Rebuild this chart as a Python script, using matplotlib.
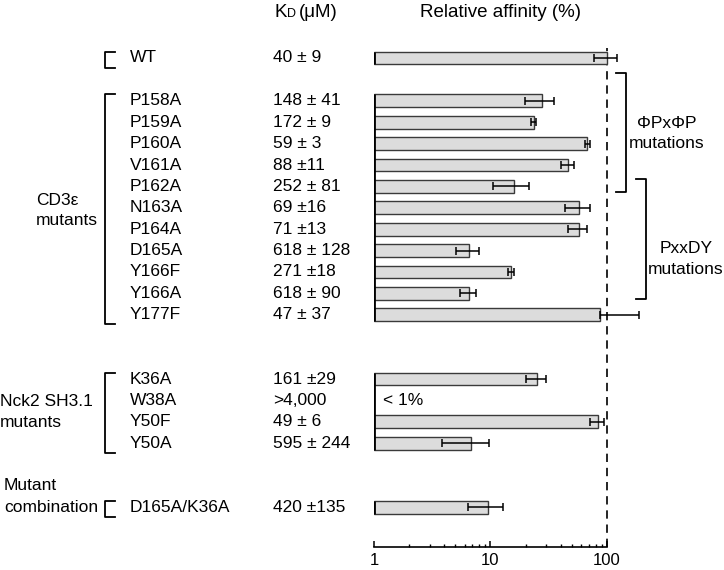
import matplotlib
matplotlib.use('Agg')
import matplotlib.pyplot as plt
import matplotlib.transforms as mtransforms
from matplotlib.ticker import FixedLocator, NullFormatter
import numpy as np

plt.rcParams['font.family'] = ['Liberation Sans', 'DejaVu Sans']

# ---- data ----
names = ['WT', 'P158A', 'P159A', 'P160A', 'V161A', 'P162A', 'N163A', 'P164A',
         'D165A', 'Y166F', 'Y166A', 'Y177F', 'K36A', 'W38A', 'Y50F', 'Y50A',
         'D165A/K36A']
rows = [0, 2, 3, 4, 5, 6, 7, 8, 9, 10, 11, 12, 15, 16, 17, 18, 21]
kd_text = ['40 ± 9', '148 ± 41', '172 ± 9', '59 ± 3', '88 ±11', '252 ± 81',
           '69 ±16', '71 ±13', '618 ± 128', '271 ±18', '618 ± 90', '47 ± 37',
           '161 ±29', '>4,000', '49 ± 6', '595 ± 244', '420 ±135']
# relative affinity (%); W38A has no bar (< 1%)
affinity = [100, 27.5, 23.5, 68, 46, 16, 58, 57, 6.5, 15, 6.5, 87,
            25, np.nan, 83, 6.8, 9.6]
err_lo = [22, 7.8, 1.1, 3, 6, 5.5, 14, 11, 1.4, 0.9, 1.0, 0, 4.7, np.nan, 11, 3.0, 3.2]
err_hi = [22, 7.8, 1.1, 3, 6, 5.5, 14, 11, 1.4, 0.9, 1.0, 102, 4.7, np.nan, 11, 3.0, 3.2]

# groups: (first row, last row, label lines, label x px, label rows)
groups = [
    (0, 0, [], 0, []),
    (2, 12, ['CD3ε', 'mutants'], 36, [6.65, 7.6]),
    (15, 18, ['Nck2 SH3.1', 'mutants'], 0, [16.05, 17.05]),
    (21, 21, ['Mutant', 'combination'], 4, [20.0, 21.0]),
]
# right-hand motif brackets: (top row, bottom row, x px, labels, label x px, label rows)
motifs = [
    (0.69, 6.26, 626, ['ΦPxΦP', 'mutations'], 667, [3.05, 4.0]),
    (5.65, 11.26, 646, ['PxxDY', 'mutations'], 686, [8.9, 9.9]),
]

W, H = 724, 570
fig = plt.figure(figsize=(W / 100, H / 100), dpi=100)
# axes: x=1 at 374 px, one decade = 116.5 px
x_left, x_right = 374, 700
y_top, y_bot = 45, 547
ax = fig.add_axes([x_left / W, 1 - y_bot / H, (x_right - x_left) / W, (y_bot - y_top) / H])
ax.set_xscale('log')
ax.set_xlim(1, 10 ** ((x_right - x_left) / 116.5))
row_px = 21.4
ax.set_ylim((y_bot - 58) / row_px, (y_top - 58) / row_px)

vals = np.array(affinity, dtype=float)
rws = np.array(rows, dtype=float)
ok = ~np.isnan(vals)
ax.barh(rws[ok], vals[ok] - 1, left=1, height=0.6, color='#dcdcdc',
        edgecolor='#3a3a3a', linewidth=1.0, zorder=2)
ax.errorbar(vals[ok], rws[ok],
            xerr=[np.array(err_lo)[ok], np.array(err_hi)[ok]],
            fmt='none', ecolor='black', elinewidth=1.1, capsize=3.2,
            capthick=1.1, zorder=3)

# dashed 100 % line
ax.vlines(100, ax.get_ylim()[0], (48 - 58) / row_px, colors='black',
          linestyles=(0, (5, 3.5)), linewidth=1.2, zorder=1)

# left vertical baselines per group
for first, last, _, _, _ in groups:
    ax.vlines(1, first - 0.3, last + 0.3, colors='black', linewidth=2, zorder=4)

fs = 12.5
ax.text(1.2, 16, '< 1%', fontsize=fs, va='center', ha='left')

# axis styling
for s in ['left', 'right', 'top']:
    ax.spines[s].set_visible(False)
ax.spines['bottom'].set_bounds(1, 100)
ax.spines['bottom'].set_linewidth(1.2)
ax.set_yticks([])
ax.xaxis.set_major_locator(FixedLocator([1, 10, 100]))
ax.xaxis.set_minor_locator(FixedLocator([2, 3, 4, 5, 6, 7, 8, 9, 20, 30, 40, 50, 60, 70, 80, 90]))
ax.xaxis.set_minor_formatter(NullFormatter())
ax.set_xticklabels(['1', '10', '100'])
ax.tick_params(axis='x', which='major', direction='in', length=4, width=1.1,
               labelsize=12, pad=4)
ax.tick_params(axis='x', which='minor', direction='in', length=2, width=1.0)

# text columns (x in figure px, y in data rows)
trans = mtransforms.blended_transform_factory(fig.transFigure, ax.transData)
for nm, r, kd in zip(names, rows, kd_text):
    ax.text(130 / W, r, nm, transform=trans, fontsize=fs, va='center', ha='left')
    ax.text(273 / W, r, kd, transform=trans, fontsize=fs, va='center', ha='left')

for first, last, labels, lx, lrows in groups:
    top, bot = first - 0.3, last + 0.45
    ax.plot([115 / W, 105 / W, 105 / W, 115 / W], [top, top, bot, bot],
            transform=trans, color='black', lw=1.3, clip_on=False)
    for lab, lr in zip(labels, lrows):
        ax.text(lx / W, lr, lab, transform=trans, fontsize=fs, va='center', ha='left')

for top, bot, bx, labels, lx, lrows in motifs:
    ax.plot([(bx - 10) / W, bx / W, bx / W, (bx - 10) / W], [top, top, bot, bot],
            transform=trans, color='black', lw=1.3, clip_on=False)
    for lab, lr in zip(labels, lrows):
        ax.text(lx / W, lr, lab, transform=trans, fontsize=fs, va='center', ha='center')

# headers
hy = 1 - 17 / H
fig.text(274 / W, hy, 'K', fontsize=13.5, va='baseline', ha='left')
fig.text(286.5 / W, hy, 'D', fontsize=9, va='baseline', ha='left')
fig.text(299 / W, hy, '(μM)', fontsize=13.5, va='baseline', ha='left')
fig.text(500 / W, hy, 'Relative affinity (%)', fontsize=13.5, va='baseline', ha='center')

fig.savefig('out.png', dpi=100)
